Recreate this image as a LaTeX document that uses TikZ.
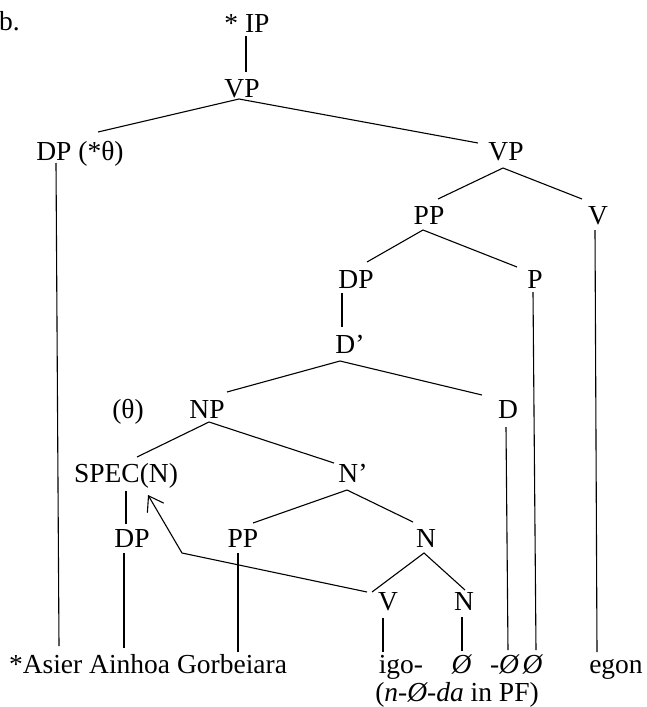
\documentclass[tikz,border=0pt]{standalone}
\usepackage{fontspec}
\setmainfont{Liberation Serif}
\usetikzlibrary{arrows.meta}
\begin{document}
\begin{tikzpicture}[x=1pt,y=-1pt,
  lbl/.style={inner sep=0pt,anchor=base,font=\fontsize{27.5}{33}\selectfont},
  edge/.style={line width=1.1pt,black},
  move/.style={line width=1.1pt,black,-{Straight Barb[length=14pt,width=19pt,line width=1.1pt]}}]
\useasboundingbox (0,0) rectangle (647,707);
% labels
\node[lbl,anchor=base west] (b) at (-1,30) {b.};
\node[lbl] (IP) at (247,32) {* IP};
\node[lbl] (VPa) at (242,97) {VP};
\node[lbl] (DPa) at (80,160) {DP (*θ)};
\node[lbl] (VPb) at (506,160) {VP};
\node[lbl] (PPa) at (429,224) {PP};
\node[lbl] (Va) at (598,224) {V};
\node[lbl] (DPb) at (356,288) {DP};
\node[lbl] (P) at (535,288) {P};
\node[lbl] (Dbar) at (350,353) {D’};
\node[lbl] (theta) at (128,418) {(θ)};
\node[lbl] (NP) at (207,418) {NP};
\node[lbl] (D) at (508,418) {D};
\node[lbl] (SPEC) at (126,482) {SPEC(N)};
\node[lbl] (Nbar) at (353,482) {N’};
\node[lbl] (DPc) at (132,547) {DP};
\node[lbl] (PPb) at (243,547) {PP};
\node[lbl] (Na) at (426,547) {N};
\node[lbl] (Vb) at (388,610) {V};
\node[lbl] (Nb) at (464,610) {N};
\node[lbl] (asier) at (148,673) {*Asier Ainhoa Gorbeiara};
\node[lbl] (igo) at (401,673) {igo-};
\node[lbl] (nullN) at (462,673) {\textit{Ø}};
\node[lbl] (nullD) at (505,673) {-\textit{Ø}};
\node[lbl] (nullP) at (533,673) {\textit{Ø}};
\node[lbl] (egon) at (616,673) {egon};
\node[lbl] (pf) at (457,701) {(\textit{n-Ø-da} in PF)};
\coordinate (bend) at (182,553);
% connectors
\draw[edge] ([shift={(-1,4)}]IP.base) -- ([shift={(4,-25)}]VPa.base);
\draw[edge] ([shift={(18,-28)}]DPa.base) -- ([shift={(-3,2)}]VPa.base) -- ([shift={(-28,-17)}]VPb.base);
\draw[edge] ([shift={(-24,3)}]DPa.base) -- ([shift={(-89,-27)}]asier.base);
\draw[edge] ([shift={(9,-25)}]PPa.base) -- ([shift={(-3,8)}]VPb.base) -- ([shift={(-16,-25)}]Va.base);
\draw[edge] ([shift={(-3,6)}]Va.base) -- ([shift={(-19,-21)}]egon.base);
\draw[edge] ([shift={(11,-26)}]DPb.base) -- ([shift={(-6,6)}]PPa.base) -- ([shift={(-18,-21)}]P.base);
\draw[edge] ([shift={(-2,4)}]P.base) -- ([shift={(3,-23)}]nullP.base);
\draw[edge] ([shift={(-14,5)}]DPb.base) -- ([shift={(-8,-26)}]Dbar.base);
\draw[edge] ([shift={(20,-26)}]NP.base) -- ([shift={(-10,8)}]Dbar.base) -- ([shift={(-26,-23)}]D.base);
\draw[edge] ([shift={(-2,9)}]D.base) -- ([shift={(3,-23)}]nullD.base);
\draw[edge] ([shift={(11,-25)}]SPEC.base) -- ([shift={(2,4)}]NP.base) -- ([shift={(-19,-19)}]Nbar.base);
\draw[edge] ([shift={(0,9)}]SPEC.base) -- ([shift={(-6,-23)}]DPc.base);
\draw[edge] ([shift={(-8,6)}]DPc.base) -- ([shift={(-24,-25)}]asier.base);
\draw[edge] ([shift={(10,-24)}]PPb.base) -- ([shift={(-6,8)}]Nbar.base) -- ([shift={(-13,-25)}]Na.base);
\draw[edge] ([shift={(-5,6)}]PPb.base) -- ([shift={(90,-21)}]asier.base);
\draw[edge] ([shift={(-16,-18)}]Vb.base) -- ([shift={(-2,6)}]Na.base) -- ([shift={(1,-20)}]Nb.base);
\draw[edge] ([shift={(-5,8)}]Vb.base) -- ([shift={(-18,-21)}]igo.base);
\draw[edge] ([shift={(-2,7)}]Nb.base) -- ([shift={(0,-22)}]nullN.base);
\draw[move] ([shift={(-21,-18)}]Vb.base) -- (bend) -- ([shift={(22,13)}]SPEC.base);
\end{tikzpicture}
\end{document}
